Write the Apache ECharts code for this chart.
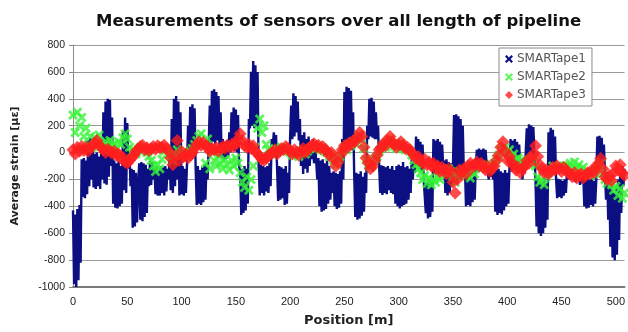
<!DOCTYPE html>
<html>
<head>
<meta charset="utf-8">
<script src="https://cdn.jsdelivr.net/npm/echarts@6/dist/echarts.min.js"></script>
<style>
html,body{margin:0;padding:0;background:#fff;}
#chart{width:628px;height:332px;}
</style>
</head>
<body>
<div id="chart"></div>
<script>
// ---- data ----
const seriesNames = ['SMARTape1', 'SMARTape2', 'SMARTape3'];
const xTickLabels = [0, 50, 100, 150, 200, 250, 300, 350, 400, 450, 500];
const yTickLabels = [-1000, -800, -600, -400, -200, 0, 200, 400, 600, 800];

// SMARTape1: one reading per metre (position = index * 1 m)
const tape1Step = 1;
const tape1 = [
 -430,-980,-460,-1000,-420,-950,-390,-820,-50,-330,
 -40,-340,-60,-310,90,-250,110,-200,60,-260,
 -10,-270,0,-250,-30,-270,20,-200,300,-230,
 380,-240,400,-180,390,-100,260,-380,-60,-410,
 -80,-415,-60,-400,-100,-380,160,-280,260,-300,
 220,-120,0,-250,-120,-560,-130,-550,-150,-520,
 -240,-80,-500,-70,-510,-80,-480,-90,-450,-120,
 -250,-60,-240,-70,-200,-110,-310,-100,-320,-120,
 -320,-100,-300,-110,-320,-100,-290,-120,-200,-30,
 -280,250,-300,400,-250,420,-200,380,-320,300,
 -310,-100,-320,-120,-300,-90,200,0,340,30,
 360,20,330,-120,-390,-100,-380,-130,-390,-110,
 -370,-90,-350,-80,-200,60,350,50,460,80,
 470,60,450,90,420,50,300,-40,100,-60,
 80,-50,90,-30,150,0,300,20,335,10,
 320,0,280,-100,-150,-465,-120,-450,-100,-430,
 -120,-380,250,180,600,200,680,180,650,190,
 600,-100,-320,-90,-300,-100,-320,-110,-290,-100,
 -300,-80,-250,100,50,150,60,130,-120,-360,
 -100,-350,-110,-340,-120,-390,-100,-380,-150,-300,
 120,350,100,440,120,420,150,380,90,250,
 -100,130,-160,150,-120,100,-150,120,-100,80,
 -50,100,-80,50,-60,-200,-40,-400,-60,-440,
 -50,-430,-80,-420,-60,-380,-100,-350,-150,-300,
 -140,-400,-150,-420,-160,-410,-140,-380,100,-200,
 450,50,490,30,480,80,460,20,300,-150,
 -480,-150,-500,-160,-490,-140,-470,-180,-440,-150,
 -300,200,100,400,120,407,110,380,100,300,
 100,200,-100,-300,-95,-315,-100,-300,-110,-310,
 -100,-280,-120,-300,-100,-310,-130,-380,-100,-400,
 -90,-415,-100,-400,-70,-390,-110,-380,-100,-350,
 -120,-300,-50,-200,-30,-150,120,-100,100,-120,
 80,-140,60,-200,-200,-450,-220,-490,-200,-480,
 -210,-440,100,-150,90,-120,100,-160,80,-100,
 60,-100,-60,-300,-50,-320,-70,-300,-80,-250,
 -100,280,-200,285,-230,270,-200,250,-180,200,
 -150,-100,-400,-110,-390,-100,-400,-120,-370,-100,
 -350,-100,20,-120,30,-110,20,-120,30,-100,
 20,-90,-150,-200,-120,-180,-130,-200,-120,-440,
 -130,-465,-120,-450,-140,-460,-150,-430,-130,-400,
 -150,-380,-120,100,-140,90,-100,100,-120,80,
 -100,60,-150,-50,-200,-80,-150,0,180,-20,
 210,0,200,-20,190,0,-200,-550,-190,-600,
 -200,-620,-210,-600,-190,-560,-220,-500,150,-100,
 185,-80,170,-100,120,-200,-340,-195,-330,-200,
 -340,-210,-320,-200,-300,-150,-200,-120,-180,-150,
 -120,-200,-150,-220,-140,-200,-160,-240,-150,-230,
 -160,-400,-200,-415,-195,-410,-200,-390,-190,-400,
 -210,-380,-200,120,-100,125,-80,110,-100,60,
 -150,-350,-145,-500,-200,-700,-250,-780,-300,-800,
 -250,-760,-200,-650,-150,-450,-100,-250,-120
];

// SMARTape2 and SMARTape3: one reading every 2 m
const tapeStep = 2;
const tape2 = [
 280,150,300,200,260,120,180,60,120,40,
 110,80,130,70,50,80,40,90,50,70,
 30,80,60,110,140,100,40,0,20,-10,
 20,40,10,30,0,-30,-60,-100,-140,-90,
 -120,-50,10,20,-10,-30,-60,-20,20,-10,
 -20,0,-30,-10,10,30,60,90,120,140,
 60,-80,100,-120,0,-60,-100,-30,-80,-120,
 -50,-90,-130,-60,-100,-40,-80,-150,-220,-260,
 -180,-280,-200,-100,40,180,250,150,200,60,
 20,-10,10,30,0,20,40,10,30,20,
 0,-20,10,-10,-30,0,20,-10,10,30,
 40,55,30,45,20,35,10,0,-30,-20,
 -60,-90,-60,-30,10,40,20,60,50,80,
 70,100,130,100,30,-50,-90,-110,-90,-50,
 -30,10,30,60,40,80,100,70,50,30,
 50,70,40,20,30,10,-20,-60,-90,-120,
 -150,-200,-170,-230,-190,-240,-200,-220,-180,-200,
 -150,-130,-160,-120,-140,-180,-220,-170,-140,-160,
 -130,-170,-150,-190,-140,-160,-110,-90,-120,-100,
 -110,-90,-120,-100,-80,-50,-20,20,30,40,
 0,20,-30,-10,-50,-40,-70,-60,-90,-60,
 -80,-50,-30,-100,-180,-220,-200,-240,-180,-150,
 -130,-100,-120,-110,-100,-120,-100,-110,-100,-80,
 -110,-70,-120,-90,-130,-110,-150,-140,-170,-150,
 -160,-120,-100,-80,-150,-200,-230,-190,-240,-280,
 -250,-320,-270,-340,-300
];
const tape3 = [
 20,-10,40,10,45,15,40,10,35,50,
 70,90,55,40,20,0,25,10,-5,10,
 -20,-10,-40,-35,-70,-80,-60,-40,-20,10,
 20,45,55,20,35,15,30,45,25,50,
 35,40,55,30,10,-40,-90,-30,90,-60,
 10,-30,-10,-40,-20,0,30,60,80,55,
 75,50,40,10,30,20,35,10,30,45,
 30,55,40,60,45,70,100,140,90,50,
 40,60,30,50,10,-10,-30,-50,-60,-40,
 -20,-10,0,20,-10,10,30,20,45,30,
 10,-10,20,0,-20,10,30,0,20,40,
 50,65,40,55,30,45,20,10,-20,0,
 -50,-100,-70,-20,20,50,30,70,60,90,
 80,110,150,120,40,-40,-80,-120,-100,-60,
 -20,20,40,70,50,90,120,80,60,40,
 60,80,50,30,40,20,0,-20,-45,-30,
 -60,-80,-50,-90,-70,-100,-80,-120,-100,-140,
 -110,-130,-160,-120,-150,-220,-300,-200,-130,-150,
 -120,-160,-100,-80,-110,-90,-70,-100,-80,-110,
 -130,-100,-140,-120,-100,-60,-20,40,80,10,
 -60,-30,-70,-100,-130,-110,-150,-120,-100,-60,
 -80,-40,-10,50,-30,-90,-120,-150,-130,-160,
 -140,-110,-130,-100,-120,-140,-110,-130,-150,-160,
 -180,-150,-190,-170,-160,-190,-170,-150,-160,-130,
 -150,-110,-80,-45,-120,-180,-200,-170,-210,-150,
 -100,-130,-90,-150,-170
];

// ---- build library input ----
function toPairs(values, step) {
  const out = [];
  for (let i = 0; i < values.length; i++) out.push([i * step, values[i]]);
  return out;
}
const xMark = 'path://M0,2L2,0L5,3L8,0L10,2L7,5L10,8L8,10L5,7L2,10L0,8L3,5Z';
const colors = ['#0b0f82', '#38f238', '#ff1e1e'];
const FONT = 'Liberation Sans';

const chart = echarts.init(document.getElementById('chart'), null, {renderer: 'canvas'});
chart.setOption({
  animation: false,
  backgroundColor: '#ffffff',
  title: {
    text: 'Measurements of sensors over all length of pipeline',
    left: 91, top: 8,
    textStyle: {fontFamily: 'DejaVu Sans', fontWeight: 'bold', fontSize: 16.5, color: '#111'}
  },
  legend: {
    orient: 'vertical',
    left: 499, top: 48,
    padding: [5, 6, 5, 6],
    itemGap: 6,
    itemWidth: 8, itemHeight: 8,
    borderColor: '#8a8a8a', borderWidth: 1,
    backgroundColor: '#fff',
    textStyle: {fontFamily: 'DejaVu Sans', fontSize: 12, color: '#555', padding: [0, 0, 0, -1]},
    data: [
      {name: seriesNames[0], icon: xMark},
      {name: seriesNames[1], icon: xMark},
      {name: seriesNames[2], icon: 'diamond'}
    ]
  },
  grid: {left: 73, right: 0, top: 45, bottom: 44, containLabel: false},
  xAxis: {
    type: 'value', min: 0, max: 508, interval: 50,
    name: 'Position [m]', nameLocation: 'middle', nameGap: 27,
    nameTextStyle: {fontFamily: 'DejaVu Sans', fontWeight: 'bold', fontSize: 13, color: '#222'},
    axisLine: {show: true, onZero: false, lineStyle: {color: '#7a7a7a', width: 2}},
    axisTick: {show: false},
    splitLine: {show: false},
    axisLabel: {
      fontFamily: FONT, fontSize: 11, color: '#222', margin: 9, showMaxLabel: false,
      formatter: v => (xTickLabels.indexOf(v) >= 0 ? String(v) : '')
    }
  },
  yAxis: {
    type: 'value', min: -1000, max: 800, interval: 200,
    name: 'Average strain [µε]', nameLocation: 'middle', nameGap: 52,
    nameTextStyle: {fontFamily: 'DejaVu Sans', fontWeight: 'bold', fontSize: 11, color: '#222'},
    axisLine: {show: true, lineStyle: {color: '#8a8a8a', width: 1}},
    axisTick: {show: true, length: 4, lineStyle: {color: '#8a8a8a'}},
    splitLine: {show: true, lineStyle: {color: '#9a9a9a', width: 1}},
    axisLabel: {
      fontFamily: FONT, fontSize: 10.5, color: '#222', margin: 8,
      formatter: v => (yTickLabels.indexOf(v) >= 0 ? String(v) : '')
    }
  },
  series: [
    {
      name: seriesNames[0], type: 'line', data: toPairs(tape1, tape1Step),
      symbol: 'none', showSymbol: false,
      lineStyle: {color: colors[0], width: 2.4},
      itemStyle: {color: colors[0]}, z: 2
    },
    {
      name: seriesNames[1], type: 'scatter', data: toPairs(tape2, tapeStep),
      symbol: xMark, symbolSize: 10,
      itemStyle: {color: colors[1]}, z: 3
    },
    {
      name: seriesNames[2], type: 'scatter', data: toPairs(tape3, tapeStep),
      symbol: 'diamond', symbolSize: 13,
      itemStyle: {color: colors[2]}, z: 4
    }
  ]
});
</script>
</body>
</html>
